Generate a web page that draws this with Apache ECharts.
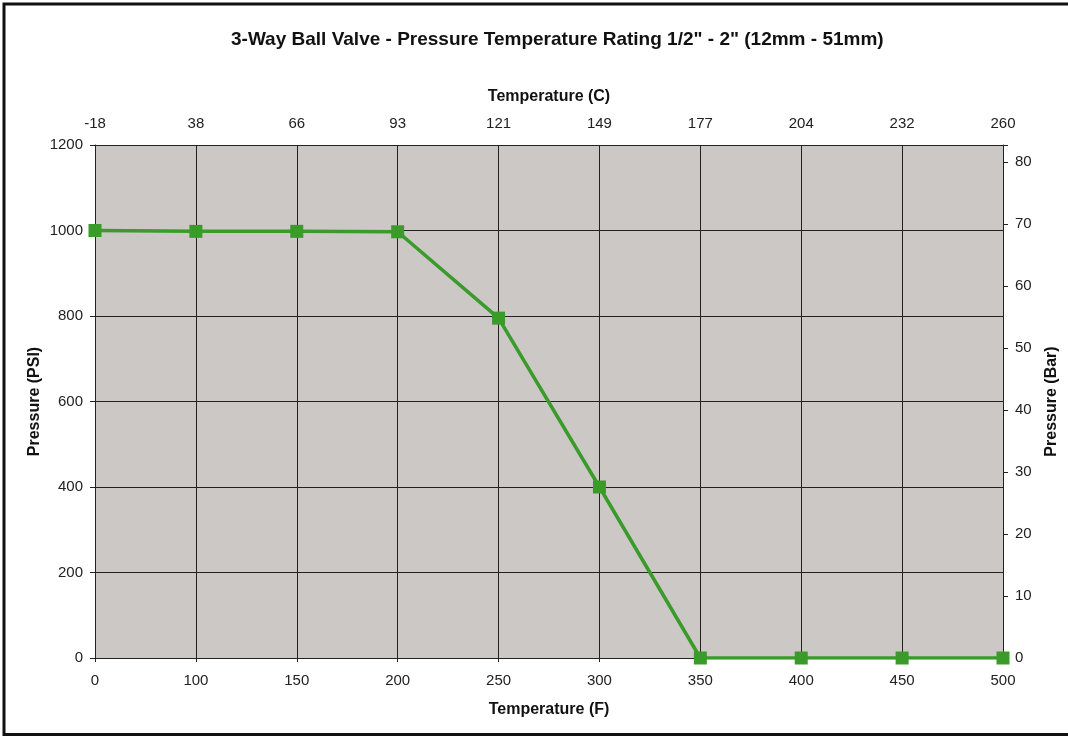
<!DOCTYPE html>
<html>
<head>
<meta charset="utf-8">
<script src="https://cdn.jsdelivr.net/npm/echarts@6/dist/echarts.min.js"></script>
<style>
html,body{margin:0;padding:0;background:#fff;}
#chart{width:1068px;height:736px;}
</style>
</head>
<body>
<div id="chart"></div>
<script>
const tempF = ['0','100','150','200','250','300','350','400','450','500'];
const tempC = ['-18','38','66','93','121','149','177','204','232','260'];
const pressurePSI = [1000, 998, 998, 997, 795, 400, 0, 0, 0, 0];
const psiTicks = [0, 200, 400, 600, 800, 1000, 1200];
const barTicks = [0, 10, 20, 30, 40, 50, 60, 70, 80];
const PSI_PER_BAR = 14.5038;

const font = 'Liberation Sans, Arial, sans-serif';
const lbl = {color:'#222', fontSize:15, fontFamily:font};
const nm = {color:'#111', fontSize:16, fontWeight:'bold', fontFamily:font};
const lineC = '#222';
const green = '#3a9a2a';

const chart = echarts.init(document.getElementById('chart'), null, {renderer:'canvas'});
chart.setOption({
  animation:false,
  backgroundColor:'#fff',
  title:{
    text:'3-Way Ball Valve - Pressure Temperature Rating 1/2" - 2" (12mm - 51mm)',
    left:226, top:25,
    textStyle:{color:'#111', fontSize:19, fontWeight:'bold', fontFamily:font}
  },
  graphic:[{
    type:'rect', silent:true, z:100,
    shape:{x:4, y:4, width:1100, height:730.5},
    style:{fill:'none', stroke:'#111', lineWidth:3}
  }],
  grid:{left:95, right:61, top:145, bottom:78, show:true, backgroundColor:'#cbc8c5', borderWidth:0},
  xAxis:[{
    type:'category', position:'bottom', data:tempF, boundaryGap:false,
    name:'Temperature (F)', nameLocation:'middle', nameGap:44, nameTextStyle:nm,
    axisLine:{lineStyle:{color:lineC, width:1}},
    axisTick:{show:true, length:4, lineStyle:{color:lineC}},
    axisLabel:Object.assign({margin:15}, lbl),
    splitLine:{show:true, lineStyle:{color:lineC, width:1}}
  },{
    type:'category', position:'top', data:tempC, boundaryGap:false,
    name:'Temperature (C)', nameLocation:'middle', nameGap:40, nameTextStyle:nm,
    axisLine:{lineStyle:{color:lineC, width:1}},
    axisTick:{show:true, length:5, lineStyle:{color:lineC}},
    axisLabel:Object.assign({margin:14}, lbl),
    splitLine:{show:false}
  }],
  yAxis:[{
    type:'value', position:'left', min:psiTicks[0], max:psiTicks[psiTicks.length-1], interval:psiTicks[1]-psiTicks[0],
    name:'Pressure (PSI)', nameLocation:'middle', nameGap:52, nameRotate:90, nameMoveOverlap:false, nameTextStyle:nm,
    axisLine:{show:true, lineStyle:{color:lineC, width:1}},
    axisTick:{show:true, length:5, lineStyle:{color:lineC}},
    axisLabel:Object.assign({margin:12, formatter:function(v){return String(v);}}, lbl),
    splitLine:{show:true, lineStyle:{color:lineC, width:1}}
  },{
    type:'value', position:'right', min:barTicks[0], max:psiTicks[psiTicks.length-1]/PSI_PER_BAR, interval:barTicks[1]-barTicks[0],
    name:'Pressure (Bar)', nameLocation:'middle', nameGap:41, nameRotate:90, nameTextStyle:nm,
    axisLine:{show:true, lineStyle:{color:lineC, width:1}},
    axisTick:{show:true, length:5, lineStyle:{color:lineC}},
    axisLabel:Object.assign({margin:12, formatter:function(v){return barTicks.indexOf(Math.round(v*1000)/1000)>=0 ? String(v) : '';}}, lbl),
    splitLine:{show:false}
  }],
  series:[{
    type:'line', xAxisIndex:0, yAxisIndex:0, data:pressurePSI,
    symbol:'rect', symbolSize:13, showSymbol:true,
    lineStyle:{color:green, width:3.5},
    itemStyle:{color:green},
    z:10
  }]
});
</script>
</body>
</html>
